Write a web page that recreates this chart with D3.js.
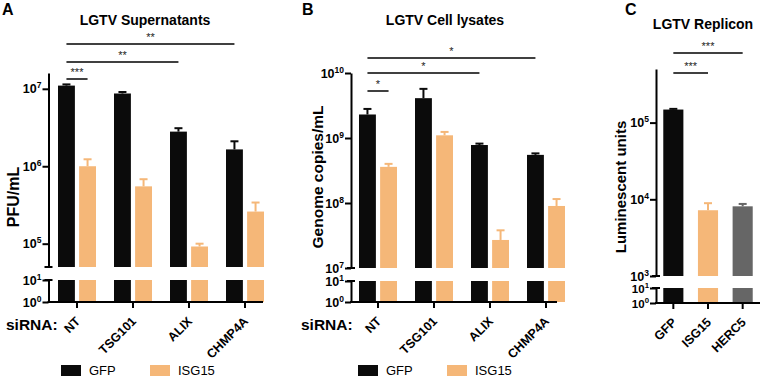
<!DOCTYPE html>
<html>
<head>
<meta charset="utf-8">
<script src="https://cdn.jsdelivr.net/npm/d3@7"></script>
<style>
  body { margin: 0; background: #fff; }
  svg { display: block; font-family: "Liberation Sans", Arial, sans-serif; }
</style>
</head>
<body>
<svg id="fig" width="760" height="378"></svg>
<script>
/* global d3 */

// ---- data ----
var sirnas = ['NT', 'TSG101', 'ALIX', 'CHMP4A']
var groups = ['GFP', 'ISG15']

// LGTV supernatants, PFU/mL (mean, SD)
var supGFP = [1.1e7, 8.7e6, 2.8e6, 1.65e6]
var supGFPsd = [4e5, 4e5, 3e5, 4.5e5]
var supISG = [1.0e6, 5.5e5, 9.2e4, 2.6e5]
var supISGsd = [2.3e5, 1.3e5, 8e3, 8e4]

// LGTV cell lysates, genome copies/mL
var lysGFP = [2.3e9, 4.1e9, 7.8e8, 5.5e8]
var lysGFPsd = [5e8, 1.6e9, 4e7, 3e7]
var lysISG = [3.6e8, 1.1e9, 2.7e7, 9.0e7]
var lysISGsd = [4e7, 1.4e8, 1.1e7, 2.5e7]

// LGTV replicon, luminescent units
var repCats = ['GFP', 'ISG15', 'HERC5']
var repVals = [1.48e5, 7.2e3, 8.1e3]
var repSd = [3e3, 1.7e3, 6e2]

// significance brackets: [from, to, label], bottom level first
var supSig = [[['NT', 'GFP'], ['NT', 'ISG15'], '***'], [['NT', 'GFP'], ['ALIX', 'GFP'], '**'], [['NT', 'GFP'], ['CHMP4A', 'GFP'], '**']]
var lysSig = [[['NT', 'GFP'], ['NT', 'ISG15'], '*'], [['NT', 'GFP'], ['ALIX', 'GFP'], '*'], [['NT', 'GFP'], ['CHMP4A', 'GFP'], '*']]
var repSig = [[['GFP'], ['ISG15'], '***'], [['GFP'], ['HERC5'], '***']]

var colors = {GFP: '#0b0b0b', ISG15: '#f5b778', HERC5: '#666666'}

var svg = d3.select('#fig')

function pairs (cats, a, asd, b, bsd) {
  var out = []
  cats.forEach(function (c, i) {
    out.push({cat: c, grp: 'GFP', v: a[i], sd: asd[i], color: colors.GFP})
    out.push({cat: c, grp: 'ISG15', v: b[i], sd: bsd[i], color: colors.ISG15})
  })
  return out
}

function drawPanel (p) {
  var g = svg.append('g')

  var x = d3.scaleBand().domain(p.cats).range(p.xRange)
    .paddingInner(p.padIn || 0).paddingOuter(p.padOut || 0)
  var xi = p.inner ? d3.scaleBand().domain(groups).range(p.inner).paddingInner(0.2) : null
  var yU = d3.scaleLog().domain(p.yDomain).range(p.yRange)
  var yL = d3.scaleLog().domain([1, 10]).range(p.lowRange)
  var bw = xi ? xi.bandwidth() : x.bandwidth()
  var bx = function (d) {
    return xi ? x(d.cat) + x.bandwidth() / 2 + xi(d.grp) : x(d.cat)
  }
  var byKey = function (k) {
    return p.bars.find(function (d) { return d.cat === k[0] && (!k[1] || d.grp === k[1]) })
  }

  // panel letter + title
  g.append('text').attr('x', p.letterX).attr('y', 15)
    .attr('font-size', 16).attr('font-weight', 'bold').text(p.letter)
  g.append('text').attr('x', p.titleX).attr('y', p.titleY)
    .attr('text-anchor', 'middle').attr('font-size', 14).attr('font-weight', 'bold').text(p.title)

  // bars, upper segment
  g.selectAll('.bu').data(p.bars).enter().append('rect')
    .attr('x', bx).attr('width', bw)
    .attr('y', function (d) { return yU(d.v) })
    .attr('height', function (d) { return p.yRange[0] - yU(d.v) })
    .attr('fill', function (d) { return d.color })
  // bars, lower segment
  g.selectAll('.bl').data(p.bars).enter().append('rect')
    .attr('x', bx).attr('width', bw)
    .attr('y', yL(10)).attr('height', yL(1) - yL(10))
    .attr('fill', function (d) { return d.color })

  // error bars (upper only)
  var eb = g.selectAll('.eb').data(p.bars).enter().append('g')
    .attr('stroke', function (d) { return d.color }).attr('stroke-width', 2)
  eb.append('line')
    .attr('x1', function (d) { return bx(d) + bw / 2 }).attr('x2', function (d) { return bx(d) + bw / 2 })
    .attr('y1', function (d) { return yU(d.v) }).attr('y2', function (d) { return yU(d.v + d.sd) })
  eb.append('line')
    .attr('x1', function (d) { return bx(d) + bw / 2 - 4 }).attr('x2', function (d) { return bx(d) + bw / 2 + 4 })
    .attr('y1', function (d) { return yU(d.v + d.sd) }).attr('y2', function (d) { return yU(d.v + d.sd) })

  // y axes (broken)
  var ax = g.append('g').attr('transform', 'translate(' + p.axisX + ',0)')
  var up = ax.append('g').call(d3.axisLeft(yU).tickValues(p.yTicks).tickSize(6).tickSizeOuter(0).tickFormat(''))
  var lo = ax.append('g').call(d3.axisLeft(yL).tickValues([1, 10]).tickSize(6).tickSizeOuter(0).tickFormat(''))
  ax.selectAll('path, line').attr('stroke', '#000').attr('stroke-width', 2)
  ax.append('line').attr('x1', -4).attr('x2', 4).attr('y1', p.yRange[0]).attr('y2', p.yRange[0])
    .attr('stroke', '#000').attr('stroke-width', 2)
  ax.append('line').attr('x1', -4).attr('x2', 4).attr('y1', yL(10)).attr('y2', yL(10))
    .attr('stroke', '#000').attr('stroke-width', 2)

  function supLabel (sel, size) {
    sel.selectAll('.tick').each(function (v) {
      var t = d3.select(this).append('text').attr('x', -7).attr('y', 4)
        .attr('text-anchor', 'end').attr('fill', '#000')
        .attr('font-size', size).attr('font-weight', 'bold')
      t.append('tspan').text('10')
      t.append('tspan').attr('dy', -5).attr('font-size', size * 0.68).text(Math.round(Math.log10(v)))
    })
  }
  supLabel(up, 12.5)
  supLabel(lo, p.lowSize || 12.5)

  // y label
  g.append('text')
    .attr('transform', 'translate(' + p.ylabelX + ',' + p.ylabelY + ') rotate(-90)')
    .attr('text-anchor', 'middle').attr('font-size', p.ylabelSize).attr('font-weight', 'bold')
    .text(p.ylabel)

  // x axis
  var base = p.lowRange[0]
  g.append('line').attr('x1', p.axisX - 1).attr('x2', p.xEnd).attr('y1', base).attr('y2', base)
    .attr('stroke', '#000').attr('stroke-width', 2)
  var xa = g.append('g').attr('transform', 'translate(0,' + base + ')')
    .call(d3.axisBottom(x).tickSize(6).tickSizeOuter(0).tickFormat(''))
  xa.select('.domain').remove()
  xa.selectAll('line').attr('stroke', '#000').attr('stroke-width', 2)
  xa.selectAll('.tick').append('text')
    .attr('transform', 'translate(4,20) rotate(-45)')
    .attr('text-anchor', 'end').attr('fill', '#000')
    .attr('font-size', 12.5).attr('font-weight', 'bold')
    .text(function (d) { return d })

  if (p.prefix) {
    g.append('text').attr('x', p.prefixX).attr('y', 330)
      .attr('font-size', 15.5).attr('font-weight', 'bold').text(p.prefix)
  }

  // significance brackets
  p.sig.forEach(function (s, i) {
    var a = byKey(s[0])
    var b = byKey(s[1])
    var x1 = bx(a) + bw / 2
    var x2 = bx(b) + bw / 2
    var yy = p.sigY[i]
    g.append('line').attr('x1', x1).attr('x2', x2).attr('y1', yy).attr('y2', yy)
      .attr('stroke', '#000').attr('stroke-width', 1.5)
    g.append('text').attr('x', (x1 + x2) / 2).attr('y', yy - 3)
      .attr('text-anchor', 'middle').attr('font-size', 11).attr('fill', '#222').text(s[2])
  })

  // legend
  if (p.legendX) {
    groups.forEach(function (k, i) {
      var lx = p.legendX[i]
      g.append('rect').attr('x', lx).attr('y', 365).attr('width', 20).attr('height', 11).attr('fill', colors[k])
      g.append('text').attr('x', lx + 28).attr('y', 375).attr('font-size', 13).text(k)
    })
  }
}

drawPanel({
  letter: 'A', letterX: 2, title: 'LGTV Supernatants', titleX: 145, titleY: 25,
  ylabel: 'PFU/mL', ylabelX: 19, ylabelY: 197, ylabelSize: 16,
  cats: sirnas, xRange: [49, 273], inner: [-19, 19],
  bars: pairs(sirnas, supGFP, supGFPsd, supISG, supISGsd),
  yDomain: [5e4, 1.6e7], yRange: [267, 73], yTicks: [1e5, 1e6, 1e7],
  lowRange: [302, 280], axisX: 48.5, xEnd: 263,
  sig: supSig, sigY: [79, 62, 44],
  prefix: 'siRNA:', prefixX: 6, legendX: [61, 150]
})

drawPanel({
  letter: 'B', letterX: 302, title: 'LGTV Cell lysates', titleX: 445, titleY: 25,
  ylabel: 'Genome copies/mL', ylabelX: 323, ylabelY: 177, ylabelSize: 15.5,
  cats: sirnas, xRange: [350, 574], inner: [-19, 19],
  bars: pairs(sirnas, lysGFP, lysGFPsd, lysISG, lysISGsd),
  yDomain: [1e7, 1e10], yRange: [268, 73], yTicks: [1e7, 1e8, 1e9, 1e10],
  lowRange: [302, 281], axisX: 351, xEnd: 557,
  sig: lysSig, sigY: [91, 73, 58],
  prefix: 'siRNA:', prefixX: 301, legendX: [358, 447]
})

drawPanel({
  letter: 'C', letterX: 625, title: 'LGTV Replicon', titleX: 703, titleY: 29,
  ylabel: 'Luminescent units', ylabelX: 626, ylabelY: 187, ylabelSize: 15,
  cats: repCats, xRange: [656, 760], padIn: 0.42, padOut: 0.21,
  bars: repCats.map(function (c, i) { return {cat: c, v: repVals[i], sd: repSd[i], color: colors[c]} }),
  yDomain: [1e3, 5e5], yRange: [276, 69], yTicks: [1e3, 1e4, 1e5],
  lowRange: [303, 288], axisX: 656, xEnd: 760, lowSize: 11.5,
  sig: repSig, sigY: [73, 53]
})
</script>
</body>
</html>
